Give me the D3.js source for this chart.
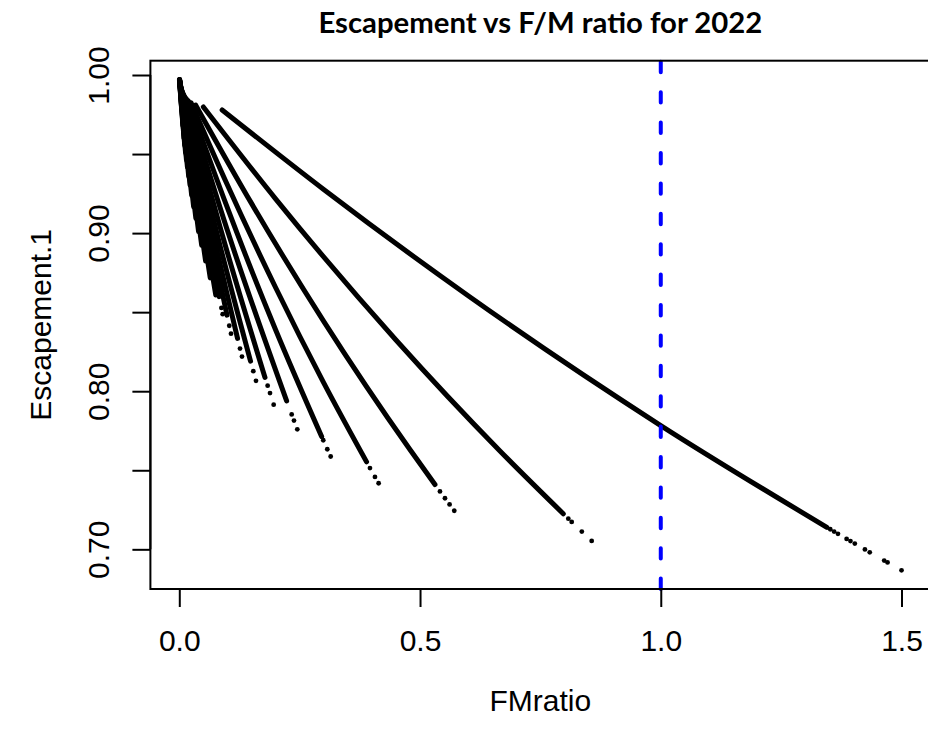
<!DOCTYPE html>
<html>
<head>
<meta charset="utf-8">
<script src="https://cdn.jsdelivr.net/npm/d3@7"></script>
<style>
  body { margin: 0; background: #fff; }
  svg { display: block; }
</style>
</head>
<body>
<script>
// values: one run per M value, [FMratio, Escapement.1]
// solid part of each run, then the sparse dots at its far end
const runLines = [
  [[0.089, 0.9779], [0.3, 0.9276], [0.6, 0.8604], [1.0, 0.7783], [1.345, 0.7139]],
  [[0.050, 0.9798], [0.2, 0.9217], [0.45, 0.8324], [0.666, 0.7622], [0.7975, 0.7225]],
  [[0.034, 0.9810], [0.15, 0.9188], [0.3, 0.8442], [0.479, 0.7631], [0.531, 0.7410]],
  [[0.0246, 0.9824], [0.1, 0.9304], [0.2, 0.8656], [0.3, 0.8053], [0.389, 0.7553]],
  [[0.0187, 0.9837], [0.1, 0.9159], [0.2, 0.8389], [0.2957, 0.7713]],
  [[0.0146, 0.9850], [0.1, 0.9016], [0.223, 0.7938]],
  [[0.0117, 0.9861], [0.09, 0.8982], [0.178, 0.8087]],
  [[0.0095, 0.9873], [0.08, 0.8977], [0.148, 0.8190]],
  [[0.0077, 0.9885], [0.06, 0.9136], [0.121, 0.8334]],
  [[0.0064, 0.9894], [0.05, 0.9202], [0.099, 0.8481]],
  [[0.0054, 0.9902], [0.045, 0.9213], [0.083, 0.8598]],
  [[0.00451, 0.9911], [0.0758, 0.8608]],
  [[0.00383, 0.9919], [0.0643, 0.8717]],
  [[0.00325, 0.9926], [0.0546, 0.8824]],
  [[0.00277, 0.9932], [0.0465, 0.8924]],
  [[0.00238, 0.9938], [0.0400, 0.9010]],
  [[0.00205, 0.9944], [0.0344, 0.9094]],
  [[0.00177, 0.9948], [0.0298, 0.9167]],
  [[0.00153, 0.9953], [0.0257, 0.9240]],
  [[0.00133, 0.9957], [0.0223, 0.9304]],
  [[0.00116, 0.9961], [0.0195, 0.9360]],
  [[0.00101, 0.9964], [0.0169, 0.9418]],
  [[0.00089, 0.9967], [0.0149, 0.9463]],
  [[0.00077, 0.9970], [0.0130, 0.9510]],
  [[0.00067, 0.9970], [0.0113, 0.9556]],
  [[0.00058, 0.9970], [0.0098, 0.9599]],
  [[0.0005, 0.9970], [0.0075, 0.9680]],
  [[0.0003, 0.9970], [0.0050, 0.9780]]
];

const runTails = [
  [[1.352, 0.7127], [1.360, 0.7112], [1.368, 0.7098], [1.386, 0.7066], [1.394, 0.7052],
   [1.403, 0.7036], [1.424, 0.6999], [1.434, 0.6981], [1.464, 0.6929], [1.471, 0.6917], [1.500, 0.6867]],
  [[0.808, 0.7194], [0.815, 0.7173], [0.836, 0.7112], [0.8565, 0.7053]],
  [[0.5414, 0.7366], [0.5518, 0.7323], [0.5614, 0.7284], [0.5711, 0.7244]],
  [[0.396, 0.7514], [0.4064, 0.7458], [0.414, 0.7418]],
  [[0.299, 0.7690], [0.3074, 0.7633], [0.3144, 0.7587]],
  [[0.2334, 0.7853], [0.2382, 0.7814], [0.2451, 0.7759]],
  [[0.1835, 0.8035], [0.1884, 0.7988], [0.196, 0.7915]],
  [[0.1537, 0.8127], [0.1593, 0.8066]],
  [[0.1261, 0.8270], [0.1302, 0.8219]],
  [[0.1038, 0.8414], [0.1074, 0.8364]],
  [[0.0875, 0.8527], [0.0901, 0.8487]]
];

const xTicks = [0, 0.5, 1.0, 1.5];
const yTicks = [0.70, 0.75, 0.80, 0.85, 0.90, 0.95, 1.00];
const yLabelled = [0.70, 0.80, 0.90, 1.00];
const refLine = 1.0;

const width = 928, height = 735;
const plot = { left: 150.4, right: 930.4, top: 60.7, bottom: 589 };

const x = d3.scaleLinear().domain([-0.06, 1.56]).range([plot.left, plot.right]);
const y = d3.scaleLinear().domain([0.6749, 1.00905]).range([plot.bottom, plot.top]);

const svg = d3.select("body").append("svg")
  .attr("width", width)
  .attr("height", height);

const line = d3.line()
  .x(d => x(d[0]))
  .y(d => y(d[1]))
  .curve(d3.curveMonotoneX);

// draw the short runs first, the long ones on top
svg.append("g")
  .selectAll("path")
  .data(runLines.slice().reverse())
  .join("path")
  .attr("d", line)
  .attr("fill", "none")
  .attr("stroke", "#000")
  .attr("stroke-width", 5)
  .attr("stroke-linecap", "round")
  .attr("stroke-linejoin", "round");

svg.append("g")
  .selectAll("circle")
  .data(runTails.flat())
  .join("circle")
  .attr("cx", d => x(d[0]))
  .attr("cy", d => y(d[1]))
  .attr("r", 2.4)
  .attr("fill", "#000");

// vertical reference line at F/M = 1
svg.append("path")
  .attr("d", d3.line()([[x(refLine), plot.bottom], [x(refLine), plot.top]]))
  .attr("stroke", "#0000ff")
  .attr("stroke-width", 4)
  .attr("stroke-dasharray", "10.4,20")
  .attr("stroke-linecap", "round");

// box
svg.append("rect")
  .attr("x", plot.left)
  .attr("y", plot.top)
  .attr("width", plot.right - plot.left)
  .attr("height", plot.bottom - plot.top)
  .attr("fill", "none")
  .attr("stroke", "#000")
  .attr("stroke-width", 2);

const font = "'Liberation Sans', Arial, sans-serif";
const fontSize = 30;

const xAxis = svg.append("g")
  .attr("transform", `translate(0,${plot.bottom})`)
  .call(d3.axisBottom(x).tickValues(xTicks).tickSize(18).tickSizeOuter(0).tickFormat(d3.format(".1f")));
xAxis.select(".domain")
  .attr("d", `M${x(xTicks[0])},0H${x(xTicks[xTicks.length - 1])}`)
  .attr("stroke-width", 2);
xAxis.selectAll(".tick line").attr("stroke-width", 2);
xAxis.selectAll(".tick text")
  .attr("y", 62).attr("dy", 0)
  .attr("font-family", font).attr("font-size", fontSize).attr("fill", "#000");

const yAxis = svg.append("g")
  .attr("transform", `translate(${plot.left},0)`)
  .call(d3.axisLeft(y).tickValues(yTicks).tickSize(18).tickSizeOuter(0)
    .tickFormat(d => yLabelled.some(v => Math.abs(v - d) < 1e-9) ? d3.format(".2f")(d) : ""));
yAxis.select(".domain")
  .attr("d", `M0,${y(yTicks[0])}V${y(yTicks[yTicks.length - 1])}`)
  .attr("stroke-width", 2);
yAxis.selectAll(".tick line").attr("stroke-width", 2);
yAxis.selectAll(".tick text")
  .attr("x", 0).attr("dy", 0)
  .attr("transform", "translate(-41,0) rotate(-90)")
  .attr("text-anchor", "middle")
  .attr("font-family", font).attr("font-size", fontSize).attr("fill", "#000");

// labels
svg.append("text")
  .attr("x", (plot.left + plot.right) / 2)
  .attr("y", 711)
  .attr("text-anchor", "middle")
  .attr("font-family", font).attr("font-size", fontSize)
  .text("FMratio");

svg.append("text")
  .attr("transform", `translate(51,${(plot.top + plot.bottom) / 2}) rotate(-90)`)
  .attr("text-anchor", "middle")
  .attr("font-family", font).attr("font-size", fontSize)
  .text("Escapement.1");

const title = svg.append("text")
  .attr("x", (plot.left + plot.right) / 2)
  .attr("y", 33)
  .attr("text-anchor", "middle")
  .attr("font-family", "Lato, 'Open Sans', sans-serif")
  .attr("font-weight", "bold")
  .attr("font-size", 24)
  .text("Escapement vs F/M ratio for 2022");
// fit the title to the width it has in the picture
const tw = title.node().getComputedTextLength();
title.attr("font-size", 24 * 444 / tw);
</script>
</body>
</html>
